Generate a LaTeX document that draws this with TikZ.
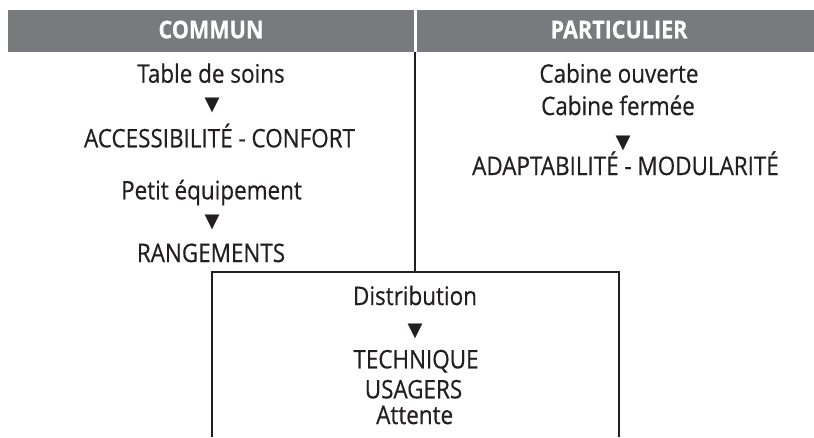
\documentclass[tikz,border=0pt]{standalone}
\usepackage{fontspec}
\setmainfont{Open Sans}[FakeStretch=0.88,FakeBold=0.5]
\newfontfamily\symfont{DejaVu Sans}
\definecolor{headgray}{HTML}{797A7E}
\definecolor{ink}{HTML}{231F20}
\begin{document}
\begin{tikzpicture}[x=1pt,y=-1pt,
  lbl/.style={anchor=base,inner sep=0pt,text=ink,font=\fontsize{25.5}{28}\selectfont},
  head/.style={anchor=base,inner sep=0pt,text=white,font=\fontsize{24.5}{28}\selectfont\bfseries},
  arrowmark/.style={inner sep=0pt,text=ink,font=\symfont\fontsize{19.5}{19.5}\selectfont},
  bar/.style={fill=headgray,draw=none},
  rule/.style={draw=ink,line width=2.6pt}]
\useasboundingbox (0,0) rectangle (814,437);

% header bars
\fill[bar] (8,10) rectangle (414,52);
\fill[bar] (417,10) rectangle (814,52);
\node[head] (commun) at (211,38.3) {COMMUN};
\node[head] (partic) at (619,38.3) {PARTICULIER};

% left column
\node[lbl] (table) at (211,82.7) {Table de soins};
\node[arrowmark] (t1) at (212,105.5) {▼};
\node[lbl] (access) at (219.5,147.3) {ACCESSIBILITÉ - CONFORT};
\node[lbl] (petit) at (211.5,199.3) {Petit équipement};
\node[arrowmark] (t2) at (212,222.5) {▼};
\node[lbl] (rang) at (211,262) {RANGEMENTS};

% right column
\node[lbl] (ouv) at (619,82.7) {Cabine ouverte};
\node[lbl] (ferm) at (618,115) {Cabine fermée};
\node[arrowmark] (t3) at (623,143) {▼};
\node[lbl] (adapt) at (625.5,175) {ADAPTABILITÉ - MODULARITÉ};

% central box
\coordinate (boxtl) at (212,272);
\coordinate (boxtr) at (619,272);
\coordinate (boxbl) at (212,437);
\coordinate (boxbr) at (619,437);
\coordinate (divtop) at (415,52);
\coordinate (divbot) at (415,272);
\draw[rule] (boxbl) -- (boxtl) -- (boxtr) -- (boxbr);
\draw[rule] (divtop) -- (divbot);

\node[lbl] (distr) at (415,305) {Distribution};
\node[arrowmark] (t4) at (415,331.7) {▼};
\node[lbl] (tech) at (416,368.3) {TECHNIQUE};
\node[lbl] (usag) at (413.5,398.3) {USAGERS};
\node[lbl] (att) at (414.7,424) {Attente};
\end{tikzpicture}
\end{document}
